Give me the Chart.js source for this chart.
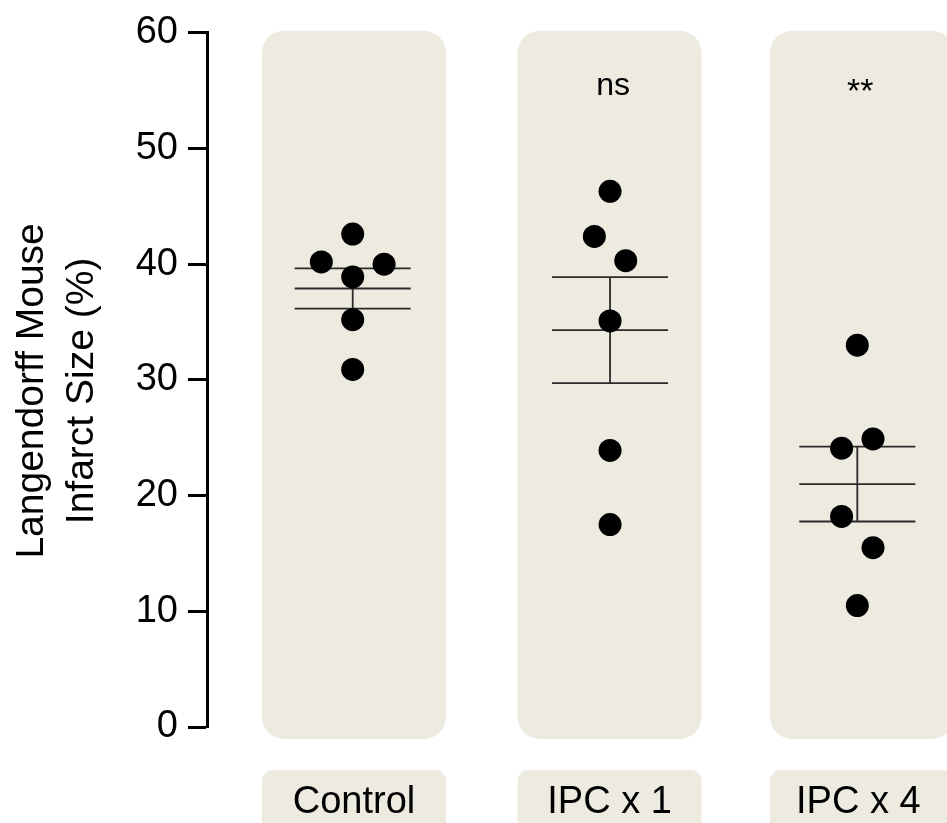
<!DOCTYPE html>
<html><head><meta charset="utf-8">
<script src="https://cdn.jsdelivr.net/npm/chart.js@4/dist/chart.umd.min.js"></script>
<style>html,body{margin:0;padding:0;background:#fff;overflow:hidden}#wrap{width:947px;height:823px;position:relative}</style>
</head><body><div id="wrap"><canvas id="c"></canvas></div>
<script>
// ---- data ----
const categories = ['Control', 'IPC x 1', 'IPC x 4'];
const controlValues = [42.6, 40.2, 40.0, 38.9, 35.2, 30.9];
const ipc1Values = [46.3, 42.4, 40.3, 35.1, 23.9, 17.5];
const ipc4Values = [33.0, 24.1, 24.9, 18.2, 15.5, 10.5];
const groupMeans = [37.9, 34.3, 21.0];
const groupSEMs = [1.74, 4.58, 3.24];
const significance = ['', 'ns', '**'];
const yTicks = [0, 10, 20, 30, 40, 50, 60];
const yTitleLines = ['Langendorff Mouse', 'Infarct Size (%)'];

// ---- layout (not data) ----
const groupPos = [0, 1.02, 2];
const jitterSteps = [[0, -2, 2, 0, 0, 0], [0, -1, 1, 0, 0, 0], [0, -1, 1, -1, 1, 0]];
const jitterUnit = 0.0622;
const errHalf = 0.23;
const bgShiftPx = [1.3, -0.5, 4.7];
const labelShiftPx = [1.3, -0.5, 1];
const bgHalfPx = 92;
const BG = '#edeae0';
const FONT = '"Liberation Sans", Arial, Helvetica, sans-serif';

const groupValues = [controlValues, ipc1Values, ipc4Values];
const datasets = groupValues.map((vals, g) => ({
  label: categories[g],
  data: vals.map((v, i) => ({ x: groupPos[g] + jitterSteps[g][i] * jitterUnit, y: v })),
  backgroundColor: '#000',
  borderWidth: 0,
  pointRadius: 11.5,
  pointHoverRadius: 11.5
}));

function rr(ctx, x, y, w, h, r) {
  ctx.beginPath();
  ctx.moveTo(x + r, y);
  ctx.lineTo(x + w - r, y);
  ctx.arcTo(x + w, y, x + w, y + r, r);
  ctx.lineTo(x + w, y + h - r);
  ctx.arcTo(x + w, y + h, x + w - r, y + h, r);
  ctx.lineTo(x + r, y + h);
  ctx.arcTo(x, y + h, x, y + h - r, r);
  ctx.lineTo(x, y + r);
  ctx.arcTo(x, y, x + r, y, r);
  ctx.closePath();
}

const decor = {
  id: 'decor',
  beforeDraw(chart) {
    const ctx = chart.ctx, xs = chart.scales.x, ys = chart.scales.y;
    ctx.save();
    ctx.fillStyle = '#fff';
    ctx.fillRect(0, 0, chart.width, chart.height);
    categories.forEach((cat, g) => {
      const gc = xs.getPixelForValue(groupPos[g]);
      const c = gc + bgShiftPx[g];
      ctx.fillStyle = BG;
      rr(ctx, c - bgHalfPx, ys.top - 2, bgHalfPx * 2, ys.bottom - ys.top + 14, 22);
      ctx.fill();
      rr(ctx, c - bgHalfPx, ys.bottom + 43, bgHalfPx * 2, 80, 11);
      ctx.fill();
      ctx.fillStyle = '#000';
      ctx.font = '38px ' + FONT;
      ctx.textAlign = 'center';
      ctx.textBaseline = 'alphabetic';
      ctx.fillText(cat, gc + labelShiftPx[g], ys.bottom + 86);
    });
    ctx.restore();
  },
  beforeDatasetsDraw(chart) {
    const ctx = chart.ctx, xs = chart.scales.x, ys = chart.scales.y;
    ctx.save();
    ctx.strokeStyle = '#2a2a2a';
    ctx.lineWidth = 1.8;
    groupMeans.forEach((m, g) => {
      const s = groupSEMs[g];
      const x0 = xs.getPixelForValue(groupPos[g] - errHalf);
      const x1 = xs.getPixelForValue(groupPos[g] + errHalf);
      const xc = xs.getPixelForValue(groupPos[g]);
      [m - s, m, m + s].forEach(v => {
        const y = ys.getPixelForValue(v);
        ctx.beginPath(); ctx.moveTo(x0, y); ctx.lineTo(x1, y); ctx.stroke();
      });
      ctx.beginPath();
      ctx.moveTo(xc, ys.getPixelForValue(m - s));
      ctx.lineTo(xc, ys.getPixelForValue(m + s));
      ctx.stroke();
    });
    ctx.restore();
  },
  afterDraw(chart) {
    const ctx = chart.ctx, xs = chart.scales.x, ys = chart.scales.y;
    ctx.save();
    ctx.fillStyle = '#000';
    ctx.textAlign = 'center';
    ctx.textBaseline = 'alphabetic';
    significance.forEach((t, g) => {
      if (!t) return;
      const c = xs.getPixelForValue(groupPos[g]) + 3;
      if (t === '**') { ctx.font = '34px ' + FONT; ctx.fillText(t, c, ys.top + 69); }
      else { ctx.font = '32px ' + FONT; ctx.fillText(t, c, ys.top + 62); }
    });
    // y-axis title
    ctx.font = '39px ' + FONT;
    ctx.translate(0, (ys.top + ys.bottom) / 2 + 11);
    ctx.rotate(-Math.PI / 2);
    yTitleLines.forEach((line, i) => ctx.fillText(line, 0, 43 + i * 50));
    ctx.restore();
  }
};

new Chart(document.getElementById('c'), {
  type: 'scatter',
  data: { datasets },
  plugins: [decor],
  options: {
    responsive: true,
    maintainAspectRatio: false,
    animation: false,
    events: [],
    layout: { autoPadding: false, padding: { top: 31, bottom: 96, left: 0, right: 0 } },
    plugins: { legend: { display: false }, tooltip: { enabled: false } },
    scales: {
      x: { type: 'linear', display: false, min: -0.5775, max: 2.3555 },
      y: {
        type: 'linear', min: 0, max: 60,
        afterFit(scale) { scale.width = 207; },
        afterBuildTicks(scale) { scale.ticks = yTicks.map(v => ({ value: v })); },
        border: { display: true, color: '#000', width: 3 },
        grid: { drawOnChartArea: false, drawTicks: true, tickLength: 19, tickColor: '#000', tickWidth: 3 },
        ticks: { color: '#000', padding: 10, font: { size: 38, family: FONT } },
        title: { display: false }
      }
    }
  }
});
</script>
</body></html>
